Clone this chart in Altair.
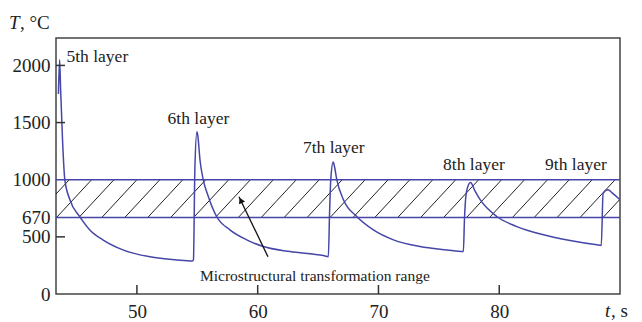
import altair as alt
import pandas as pd

# ---- data ----
t_vals = [43.50, 43.60, 43.68, 43.84, 44.03, 44.45, 45.28, 46.10, 47.18, 48.84, 51.08, 53.31, 54.60,
          54.68, 54.80, 54.97,
          55.05, 55.22, 55.49, 55.91, 56.60, 57.70, 59.09, 60.46, 62.68, 65.44, 65.85,
          65.95, 66.05, 66.25,
          66.35, 66.55, 67.10, 68.20, 69.58, 71.24, 73.45, 75.66, 77.03,
          77.12, 77.30, 77.62,
          78.00, 78.42, 79.80, 81.46, 83.66, 85.87, 88.09,
          88.45, 88.60, 89.00, 89.40, 90.00]
T_vals = [1750, 2050, 1800, 1350, 1000, 825, 675, 561, 474, 386, 325, 298, 289,
          300, 1100, 1420,
          1380, 1175, 1000, 854, 678, 561, 474, 415, 371, 336, 327,
          700, 1000, 1155,
          1120, 1000, 825, 678, 561, 474, 415, 386, 371,
          650, 900, 975,
          900, 825, 678, 590, 518, 468, 430,
          425, 880, 912, 880, 825]

band_limits = [670, 1000]
hatch_tops = [44.4, 46.25, 48.1, 50.0, 51.9, 53.8, 55.7, 57.6, 59.4, 61.3, 63.2, 65.1,
              67.0, 68.9, 70.8, 72.6, 74.5, 76.4, 78.3, 80.2, 82.1, 84.0, 85.8, 87.7,
              89.6, 91.5, 93.4]

y_tick_labels = [0, 500, 670, 1000, 1500, 2000]
y_inner_ticks = [500, 1500, 2000]
x_tick_labels = [50, 60, 70, 80]

layer_labels = ["5th layer", "6th layer", "7th layer", "8th layer", "9th layer"]
layer_t = [44.17, 52.54, 63.75, 75.35, 83.8]
layer_T = [2073, 1531, 1277, 1129, 1129]

note_text = ["Microstructural transformation range"]
note_t = [55.22]
note_T = [157]
arrow_t = [60.85, 58.45]
arrow_T = [326, 851]

FONT = "Liberation Serif"
BLUE = "#4646a8"
DARK = "#333333"

xs = alt.Scale(domain=[43.3, 90], nice=False, zero=False)
ys = alt.Scale(domain=[0, 2240], nice=False)

curve_df = pd.DataFrame({"t": t_vals, "T": T_vals})
band_df = pd.DataFrame({"T": band_limits})
hatch_df = pd.DataFrame({"top": hatch_tops})
hatch_df["bot"] = hatch_df["top"] - 2.9
hatch_df["lo"] = band_limits[0]
hatch_df["hi"] = band_limits[1]

hatch = alt.Chart(hatch_df).mark_rule(color="#222222", strokeWidth=1, clip=True).encode(
    x=alt.X("bot:Q", scale=xs, axis=alt.Axis(values=x_tick_labels, format="d", title=None, ticks=False, tickSize=0,
                                              domain=False, grid=False, labelFont=FONT, labelFontSize=19,
                                              labelColor="#222222", labelPadding=8)),
    x2="top:Q",
    y=alt.Y("lo:Q", scale=ys, axis=alt.Axis(values=y_tick_labels, format="d", title=None, ticks=False, tickSize=0,
                                             domain=False, grid=False, labelFont=FONT, labelFontSize=19,
                                             labelColor="#222222", labelPadding=6)),
    y2="hi:Q",
)

band = alt.Chart(band_df).mark_rule(color=BLUE, strokeWidth=1.6).encode(
    y=alt.Y("T:Q", scale=ys)
)

curve = alt.Chart(curve_df).mark_line(color=BLUE, strokeWidth=1.5, clip=True, interpolate="monotone").encode(
    x=alt.X("t:Q", scale=xs), y=alt.Y("T:Q", scale=ys)
)

yt = alt.Chart(pd.DataFrame({"T": y_inner_ticks})).mark_rule(color=DARK, strokeWidth=1.5).encode(
    y=alt.Y("T:Q", scale=ys), x=alt.value(0), x2=alt.value(9)
)
xt = alt.Chart(pd.DataFrame({"t": x_tick_labels})).mark_rule(color=DARK, strokeWidth=1.5).encode(
    x=alt.X("t:Q", scale=xs), y=alt.value(247), y2=alt.value(256)
)

labels = alt.Chart(pd.DataFrame({"t": layer_t, "T": layer_T, "label": layer_labels})).mark_text(
    font=FONT, fontSize=17.5, align="left", baseline="middle", color="#222222"
).encode(x=alt.X("t:Q", scale=xs), y=alt.Y("T:Q", scale=ys), text="label:N")

note = alt.Chart(pd.DataFrame({"t": note_t, "T": note_T, "label": note_text})).mark_text(
    font=FONT, fontSize=15.5, align="left", baseline="middle", color="#222222"
).encode(x=alt.X("t:Q", scale=xs), y=alt.Y("T:Q", scale=ys), text="label:N")

arrow_line = alt.Chart(pd.DataFrame({"t": arrow_t, "T": arrow_T})).mark_line(color="#111111", strokeWidth=1.3).encode(
    x=alt.X("t:Q", scale=xs), y=alt.Y("T:Q", scale=ys)
)
arrow_head = alt.Chart(pd.DataFrame({"t": [58.6], "T": [820]})).mark_point(
    shape="triangle-up", filled=True, color="#111111", size=45, angle=334, opacity=1
).encode(x=alt.X("t:Q", scale=xs), y=alt.Y("T:Q", scale=ys))

title_T = alt.Chart(pd.DataFrame({"s": ["T"]})).mark_text(
    font=FONT, fontSize=19, fontStyle="italic", align="left", baseline="middle", color="#222222"
).encode(x=alt.value(-47), y=alt.value(-15), text="s:N")
title_C = alt.Chart(pd.DataFrame({"s": [", °C"]})).mark_text(
    font=FONT, fontSize=19, align="left", baseline="middle", color="#222222"
).encode(x=alt.value(-36), y=alt.value(-15), text="s:N")
title_t = alt.Chart(pd.DataFrame({"s": ["t"]})).mark_text(
    font=FONT, fontSize=19, fontStyle="italic", align="left", baseline="middle", color="#222222"
).encode(x=alt.value(549), y=alt.value(273), text="s:N")
title_s = alt.Chart(pd.DataFrame({"s": [", s"]})).mark_text(
    font=FONT, fontSize=19, align="left", baseline="middle", color="#222222"
).encode(x=alt.value(555), y=alt.value(273), text="s:N")

chart = alt.layer(
    hatch, band, curve, yt, xt, labels, note, arrow_line, arrow_head,
    title_T, title_C, title_t, title_s
).properties(
    width=564, height=256,
    autosize=alt.AutoSizeParams(type="none"),
    padding={"left": 48, "top": 30, "right": 12, "bottom": 26},
).configure_view(
    stroke="#444444", strokeWidth=1.5
)

chart.save("out.html", embed_options={"renderer": "svg", "actions": False})
